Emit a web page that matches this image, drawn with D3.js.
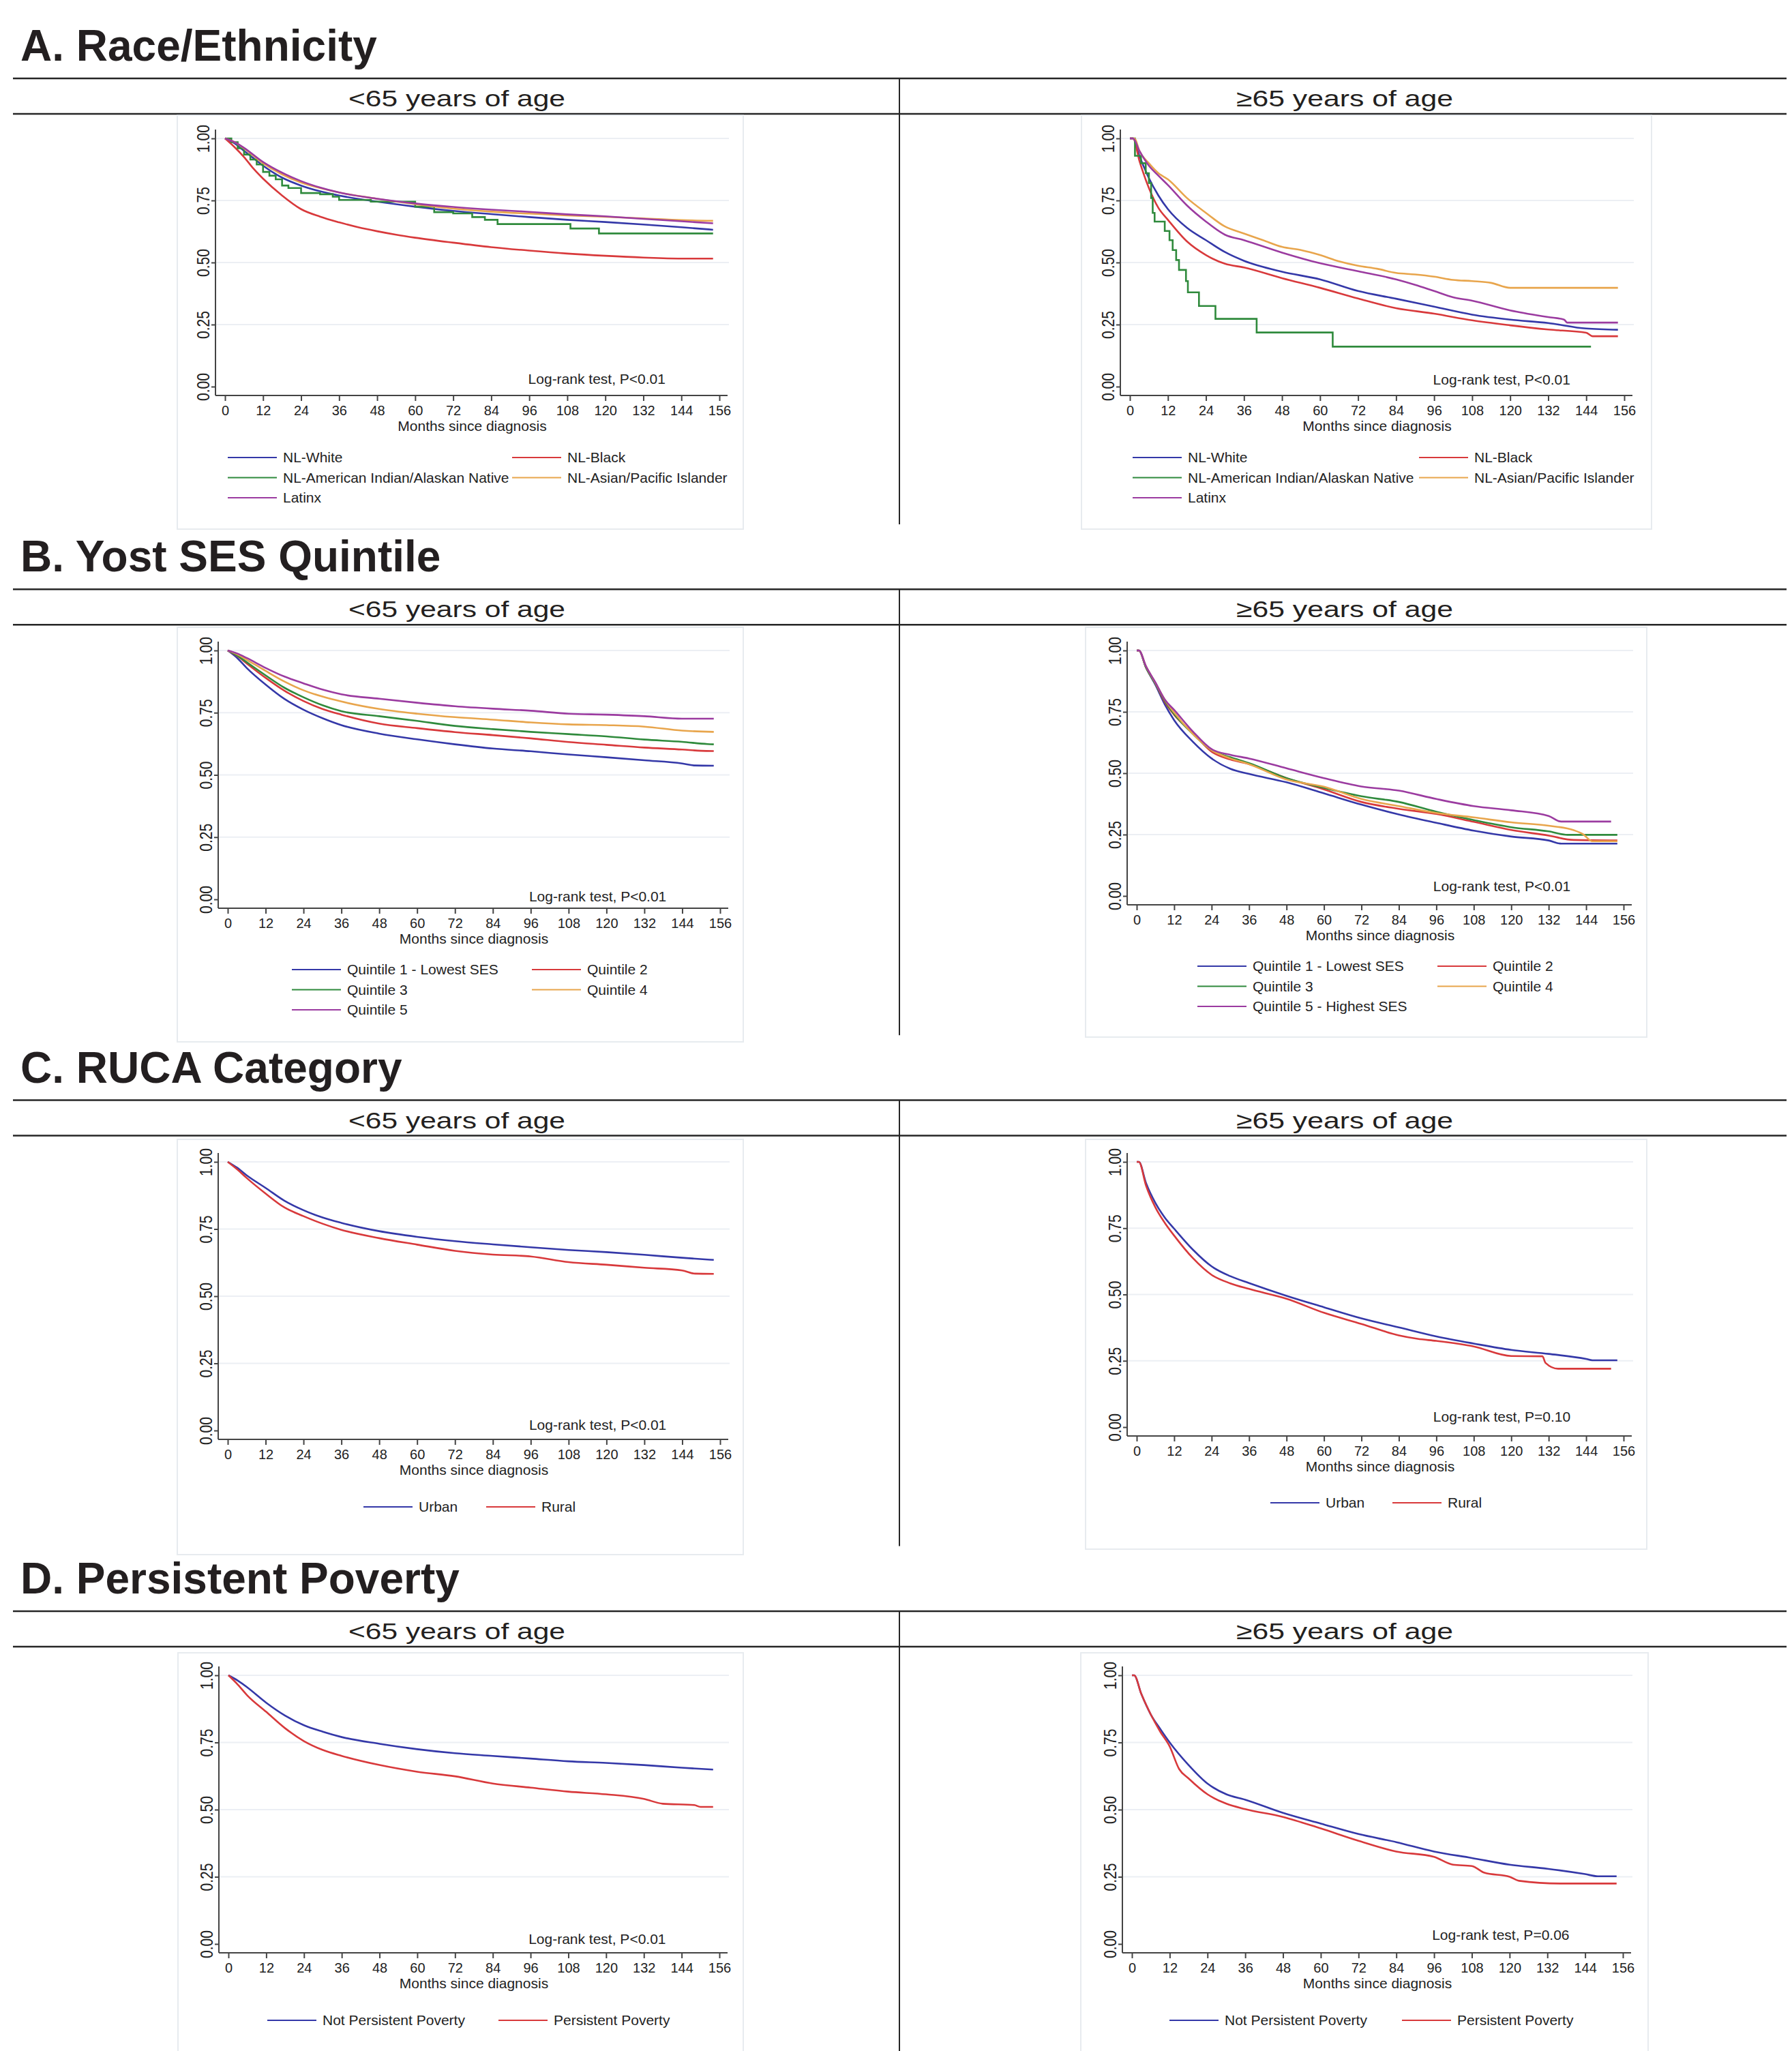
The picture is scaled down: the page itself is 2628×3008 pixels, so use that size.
<!DOCTYPE html>
<html>
<head>
<meta charset="UTF-8">
<title>Survival by group and age</title>
<script src="https://d3js.org/d3.v7.min.js"></script>
<style>
  body { margin: 0; background: #fff; }
  svg text { font-family: "Liberation Sans", Arial, sans-serif; fill: #222; }
  .sect { font-size: 64px; font-weight: bold; fill: #231f20; }
  .age { font-size: 34px; fill: #231f20; }
  .lab { font-size: 21px; }
</style>
</head>
<body>
<svg id="fig" width="2628" height="3008"></svg>
<script>
// ---------- data ----------
const monthTicks = [0, 12, 24, 36, 48, 60, 72, 84, 96, 108, 120, 132, 144, 156];
const survTicks = [0, 0.25, 0.5, 0.75, 1];

const sectionTitles = ["A. Race/Ethnicity", "B. Yost SES Quintile", "C. RUCA Category", "D. Persistent Poverty"];
const ageTitles = ["<65 years of age", "\u226565 years of age"];

const raceLabels = ["NL-White", "NL-Black", "NL-American Indian/Alaskan Native", "NL-Asian/Pacific Islander", "Latinx"];
const sesLabelsU65 = ["Quintile 1 - Lowest SES", "Quintile 2", "Quintile 3", "Quintile 4", "Quintile 5"];
const sesLabelsO65 = ["Quintile 1 - Lowest SES", "Quintile 2", "Quintile 3", "Quintile 4", "Quintile 5 - Highest SES"];
const rucaLabels = ["Urban", "Rural"];
const povertyLabels = ["Not Persistent Poverty", "Persistent Poverty"];

const logRank = ["Log-rank test, P<0.01", "Log-rank test, P<0.01", "Log-rank test, P<0.01", "Log-rank test, P<0.01",
                 "Log-rank test, P<0.01", "Log-rank test, P=0.10", "Log-rank test, P<0.01", "Log-rank test, P=0.06"];

// [month, survival]
const aU65White = [[0,1],[3,0.98],[6,0.95],[9,0.92],[12,0.89],[18,0.842],[24,0.81],[30,0.787],[36,0.77],[48,0.745],[60,0.725],[72,0.708],[84,0.695],[96,0.683],[108,0.672],[120,0.663],[132,0.653],[144,0.642],[154,0.632]];
const aU65Black = [[0,1],[3,0.965],[6,0.925],[9,0.878],[12,0.838],[18,0.77],[24,0.715],[30,0.685],[36,0.662],[42,0.642],[48,0.626],[54,0.612],[60,0.6],[72,0.58],[84,0.562],[96,0.548],[108,0.536],[120,0.527],[132,0.52],[144,0.516],[154,0.516]];
const aU65Aian  = [[0,1],[2,0.985],[4,0.96],[6,0.935],[8,0.915],[10,0.895],[12,0.865],[14,0.85],[16,0.835],[18,0.81],[20,0.8],[24,0.78],[30,0.775],[34,0.765],[36,0.752],[46,0.745],[60,0.725],[66,0.703],[72,0.698],[78,0.683],[82,0.672],[86,0.655],[109,0.637],[118,0.617],[154,0.617]];
const aU65Asian = [[0,1],[3,0.985],[6,0.96],[12,0.9],[18,0.855],[24,0.822],[30,0.8],[36,0.782],[48,0.757],[60,0.735],[72,0.717],[84,0.705],[96,0.697],[108,0.69],[120,0.684],[132,0.678],[144,0.671],[154,0.668]];
const aU65Latinx = [[0,1],[3,0.985],[6,0.962],[12,0.905],[18,0.862],[24,0.828],[30,0.802],[36,0.782],[48,0.757],[60,0.738],[72,0.724],[84,0.713],[96,0.704],[108,0.694],[120,0.686],[132,0.676],[144,0.666],[154,0.658]];

const aO65White = [[0,1],[1,1],[3,0.93],[6,0.84],[9,0.77],[12,0.715],[18,0.64],[24,0.59],[30,0.542],[36,0.507],[48,0.463],[60,0.432],[72,0.385],[84,0.354],[96,0.322],[108,0.29],[120,0.27],[132,0.256],[144,0.234],[154,0.229]];
const aO65Black = [[0,1],[1,1],[3,0.91],[6,0.8],[9,0.72],[12,0.672],[18,0.585],[24,0.53],[30,0.495],[36,0.48],[48,0.437],[60,0.398],[72,0.355],[84,0.316],[96,0.294],[108,0.267],[120,0.247],[132,0.23],[144,0.217],[146,0.203],[154,0.203]];
const aO65Aian  = [[0,1],[1.6,0.93],[3.5,0.9],[5,0.86],[6,0.82],[6.7,0.76],[7.2,0.7],[7.8,0.665],[11,0.627],[12.5,0.59],[13.5,0.55],[14.6,0.51],[15.5,0.47],[17.7,0.425],[18.3,0.38],[21.8,0.325],[27,0.273],[40,0.218],[64,0.161],[145.5,0.161]];
const aO65Asian = [[0,1],[1.5,1],[3,0.95],[6,0.9],[9,0.86],[12,0.835],[18,0.76],[24,0.7],[30,0.645],[36,0.617],[42,0.59],[48,0.563],[54,0.55],[60,0.53],[66,0.505],[72,0.487],[78,0.475],[84,0.458],[90,0.452],[96,0.443],[102,0.43],[108,0.425],[114,0.418],[120,0.398],[154,0.398]];
const aO65Latinx = [[0,1],[1,1],[3,0.95],[6,0.89],[9,0.85],[12,0.812],[18,0.73],[24,0.665],[30,0.612],[36,0.59],[48,0.54],[60,0.497],[72,0.465],[84,0.432],[90,0.41],[96,0.385],[102,0.36],[108,0.346],[120,0.307],[132,0.28],[137,0.27],[138,0.258],[154,0.258]];

const bU65Q1 = [[0,1],[3,0.97],[6,0.93],[12,0.863],[18,0.805],[24,0.762],[30,0.728],[36,0.7],[48,0.666],[60,0.643],[72,0.623],[84,0.606],[96,0.595],[108,0.582],[120,0.571],[132,0.559],[144,0.546],[148,0.538],[154,0.537]];
const bU65Q2 = [[0,1],[3,0.978],[6,0.948],[12,0.89],[18,0.838],[24,0.797],[30,0.765],[36,0.742],[48,0.706],[60,0.688],[72,0.672],[84,0.66],[96,0.647],[108,0.632],[120,0.621],[132,0.61],[144,0.602],[150,0.597],[154,0.596]];
const bU65Q3 = [[0,1],[3,0.98],[6,0.953],[12,0.9],[18,0.85],[24,0.812],[30,0.78],[36,0.756],[48,0.736],[60,0.717],[72,0.697],[84,0.684],[96,0.673],[108,0.664],[120,0.655],[132,0.642],[144,0.633],[152,0.624],[154,0.623]];
const bU65Q4 = [[0,1],[3,0.985],[6,0.963],[12,0.918],[18,0.875],[24,0.84],[30,0.815],[36,0.795],[48,0.765],[60,0.746],[72,0.732],[84,0.722],[96,0.711],[108,0.703],[120,0.7],[132,0.694],[144,0.678],[154,0.673]];
const bU65Q5 = [[0,1],[3,0.988],[6,0.97],[12,0.93],[18,0.895],[24,0.868],[30,0.843],[36,0.824],[48,0.806],[60,0.79],[72,0.776],[84,0.766],[96,0.758],[108,0.746],[120,0.742],[132,0.736],[144,0.726],[154,0.726]];

const bO65Q1 = [[0,1],[0.7,1],[3,0.93],[6,0.86],[9,0.78],[12,0.716],[18,0.628],[24,0.56],[30,0.518],[36,0.497],[48,0.463],[60,0.418],[72,0.372],[84,0.332],[96,0.298],[108,0.266],[120,0.242],[132,0.226],[136,0.213],[154,0.213]];
const bO65Q2 = [[0,1],[0.7,1],[3,0.93],[6,0.865],[9,0.79],[12,0.738],[18,0.664],[24,0.588],[30,0.556],[36,0.537],[48,0.48],[60,0.434],[72,0.383],[84,0.355],[96,0.334],[108,0.302],[120,0.269],[132,0.246],[140,0.228],[154,0.226]];
const bO65Q3 = [[0,1],[0.7,1],[3,0.93],[6,0.865],[9,0.795],[12,0.741],[18,0.66],[24,0.594],[30,0.565],[36,0.541],[48,0.48],[60,0.44],[72,0.406],[84,0.383],[96,0.343],[108,0.309],[120,0.28],[132,0.263],[138,0.249],[154,0.249]];
const bO65Q4 = [[0,1],[0.7,1],[3,0.935],[6,0.868],[9,0.8],[12,0.747],[18,0.66],[24,0.594],[30,0.56],[36,0.537],[48,0.474],[60,0.445],[72,0.395],[84,0.366],[96,0.338],[108,0.32],[120,0.3],[132,0.286],[140,0.268],[143,0.252],[146,0.223],[154,0.223]];
const bO65Q5 = [[0,1],[0.7,1],[3,0.935],[6,0.87],[9,0.8],[12,0.758],[18,0.67],[24,0.598],[30,0.575],[36,0.56],[48,0.52],[60,0.48],[72,0.446],[84,0.429],[96,0.395],[108,0.366],[120,0.349],[132,0.326],[136,0.303],[152,0.303]];

const cU65Urban = [[0,1],[3,0.978],[6,0.95],[12,0.903],[18,0.855],[24,0.82],[30,0.793],[36,0.773],[48,0.742],[60,0.721],[72,0.705],[84,0.693],[96,0.682],[108,0.672],[120,0.664],[132,0.654],[144,0.643],[154,0.635]];
const cU65Rural = [[0,1],[3,0.972],[6,0.94],[12,0.882],[18,0.83],[24,0.798],[30,0.77],[36,0.747],[48,0.716],[60,0.692],[72,0.669],[84,0.655],[96,0.648],[108,0.627],[120,0.617],[132,0.606],[144,0.596],[148,0.584],[154,0.583]];
const cO65Urban = [[0,1],[0.7,1],[3,0.92],[6,0.845],[9,0.79],[12,0.748],[18,0.669],[24,0.606],[30,0.569],[36,0.543],[48,0.495],[60,0.452],[72,0.41],[84,0.376],[96,0.342],[108,0.315],[120,0.291],[132,0.276],[144,0.257],[146,0.252],[154,0.252]];
const cO65Rural = [[0,1],[0.7,1],[3,0.91],[6,0.828],[9,0.77],[12,0.722],[18,0.637],[24,0.574],[30,0.542],[36,0.521],[48,0.484],[60,0.431],[72,0.389],[84,0.346],[90,0.333],[96,0.325],[108,0.304],[120,0.268],[130,0.267],[131,0.242],[135,0.22],[152,0.22]];

const dU65NotPP = [[0,1],[3,0.98],[6,0.955],[12,0.898],[18,0.85],[24,0.814],[30,0.79],[36,0.77],[48,0.745],[60,0.725],[72,0.71],[84,0.7],[96,0.69],[108,0.68],[120,0.674],[132,0.666],[144,0.656],[154,0.649]];
const dU65PP    = [[0,1],[3,0.965],[6,0.925],[12,0.864],[18,0.803],[24,0.755],[30,0.722],[36,0.7],[48,0.666],[60,0.641],[72,0.624],[84,0.597],[96,0.582],[108,0.567],[120,0.557],[132,0.54],[138,0.522],[148,0.517],[150,0.51],[154,0.51]];
const dO65NotPP = [[0,1],[0.7,1],[3,0.93],[6,0.854],[9,0.8],[12,0.75],[18,0.666],[24,0.597],[30,0.557],[36,0.537],[48,0.488],[60,0.448],[72,0.409],[84,0.379],[96,0.344],[108,0.32],[120,0.295],[132,0.28],[144,0.26],[148,0.252],[154,0.252]];
const dO65PP    = [[0,1],[0.7,1],[3,0.93],[6,0.854],[9,0.79],[12,0.735],[15,0.651],[18,0.616],[24,0.557],[30,0.522],[36,0.502],[48,0.473],[60,0.43],[72,0.384],[84,0.344],[96,0.324],[102,0.295],[108,0.29],[112,0.265],[120,0.25],[123,0.235],[136,0.225],[154,0.225]];

// ---------- styling / layout ----------
const blue = "#3438a8", red = "#d8393b", green = "#2f8a3c", orange = "#e8a54c", purple = "#9b3ba0";
const fiveColors = [blue, red, green, orange, purple];
const twoColors = [blue, red];

const secStep = 749.3;

// one entry per plot; box = [x0, y0, x1, y1], px = pixel of month 0 / 156, py = pixel of S=1 / S=0
const panels = [
  {sec:0, side:0, labels:raceLabels, series:[aU65White,aU65Black,aU65Aian,aU65Asian,aU65Latinx], steps:[2], colors:fiveColors,
   box:[260,169,1090,776], px:[330,1055], py:[203,567], legX:[334,751], legY:671, logY:563},
  {sec:0, side:1, labels:raceLabels, series:[aO65White,aO65Black,aO65Aian,aO65Asian,aO65Latinx], steps:[2], colors:fiveColors,
   box:[1586,169,2422,776], px:[1657,2382], py:[203,567], legX:[1661,2081], legY:671, logY:564},
  {sec:1, side:0, labels:sesLabelsU65, series:[bU65Q1,bU65Q2,bU65Q3,bU65Q4,bU65Q5], steps:[], colors:fiveColors,
   box:[260,920,1090,1528], px:[334,1056], py:[954,1319], legX:[428,780], legY:1422, logY:1322},
  {sec:1, side:1, labels:sesLabelsO65, series:[bO65Q1,bO65Q2,bO65Q3,bO65Q4,bO65Q5], steps:[], colors:fiveColors,
   box:[1592,920,2415,1521], px:[1667,2381], py:[954,1314], legX:[1756,2108], legY:1417, logY:1307},
  {sec:2, side:0, labels:rucaLabels, series:[cU65Urban,cU65Rural], steps:[], colors:twoColors,
   box:[260,1671,1090,2280], px:[334,1056], py:[1704,2098], legX:[533,713], legY:2210, logY:2097},
  {sec:2, side:1, labels:rucaLabels, series:[cO65Urban,cO65Rural], steps:[], colors:twoColors,
   box:[1592,1671,2415,2272], px:[1667,2381], py:[1704,2093], legX:[1863,2042], legY:2204, logY:2085},
  {sec:3, side:0, labels:povertyLabels, series:[dU65NotPP,dU65PP], steps:[], colors:twoColors,
   box:[261,2424,1090,3012], px:[335,1055], py:[2457,2851], legX:[392,731], legY:2963, logY:2851},
  {sec:3, side:1, labels:povertyLabels, series:[dO65NotPP,dO65PP], steps:[], colors:twoColors,
   box:[1585,2424,2417,3012], px:[1660,2380], py:[2457,2851], legX:[1715,2056], legY:2963, logY:2845}
];

const svg = d3.select("#fig");
svg.append("rect").attr("width", 2628).attr("height", 3008).attr("fill", "#fff");

// section headers, rules and the middle divider
sectionTitles.forEach((t, k) => {
  const off = k * secStep;
  svg.append("text").attr("class", "sect").attr("x", 30).attr("y", 89 + off).text(t);
  [115, 167].forEach(yy => {
    svg.append("line").attr("x1", 19).attr("x2", 2620).attr("y1", yy + off).attr("y2", yy + off)
      .attr("stroke", "#262626").attr("stroke-width", 2.5);
  });
  svg.append("line").attr("x1", 1319).attr("x2", 1319)
    .attr("y1", 115 + off).attr("y2", Math.min(115 + off + 654, 3008))
    .attr("stroke", "#262626").attr("stroke-width", 2);
  ageTitles.forEach((a, s) => {
    svg.append("text").attr("class", "age").attr("x", s === 0 ? 670 : 1972).attr("y", 156 + off)
      .attr("text-anchor", "middle").attr("textLength", 318).attr("lengthAdjust", "spacingAndGlyphs").text(a);
  });
});

function drawPanel(p, idx) {
  const g = svg.append("g");
  g.append("rect").attr("x", p.box[0]).attr("y", p.box[1])
    .attr("width", p.box[2] - p.box[0]).attr("height", p.box[3] - p.box[1])
    .attr("fill", "#fff").attr("stroke", "#e7ebef").attr("stroke-width", 2);

  const x = d3.scaleLinear().domain([0, 156]).range(p.px);
  const y = d3.scaleLinear().domain([1, 0]).range(p.py);
  const axisY = p.py[1] + 13;
  const axisX = p.px[0] - 14;

  // gridlines
  g.selectAll(".grid").data(survTicks.filter(v => v > 0)).join("line")
    .attr("x1", axisX).attr("x2", x(156) + 14)
    .attr("y1", d => y(d)).attr("y2", d => y(d))
    .attr("stroke", "#eceff4").attr("stroke-width", 2);

  // x axis
  const xa = g.append("g").attr("transform", `translate(0,${axisY})`)
    .call(d3.axisBottom(x).tickValues(monthTicks).tickSize(8).tickPadding(7))
    .attr("font-size", 20).attr("color", "#444");
  xa.select(".domain").remove();
  xa.selectAll(".tick line").attr("stroke-width", 2);
  g.append("line").attr("x1", axisX).attr("x2", x(156) + 12).attr("y1", axisY).attr("y2", axisY)
    .attr("stroke", "#444").attr("stroke-width", 2);

  // y axis, labels turned to read upwards
  const ya = g.append("g").attr("transform", `translate(${axisX},0)`)
    .call(d3.axisLeft(y).tickValues(survTicks).tickFormat(d3.format(".2f")).tickSize(6))
    .attr("font-size", 25).attr("color", "#444");
  ya.select(".domain").remove();
  ya.selectAll(".tick line").attr("stroke-width", 2);
  ya.selectAll(".tick text").attr("transform", "rotate(-90)").attr("x", 0).attr("y", -9)
    .attr("dy", 0).attr("text-anchor", "middle")
    .attr("textLength", 41).attr("lengthAdjust", "spacingAndGlyphs");
  g.append("line").attr("x1", axisX).attr("x2", axisX).attr("y1", y(1) - 13).attr("y2", axisY)
    .attr("stroke", "#444").attr("stroke-width", 2);

  g.append("text").attr("class", "lab").attr("x", x(78)).attr("y", axisY + 52)
    .attr("text-anchor", "middle").text("Months since diagnosis");

  g.append("text").attr("class", "lab").attr("x", x(139)).attr("y", p.logY)
    .attr("text-anchor", "end").text(logRank[idx]);

  // survival curves
  p.series.forEach((s, i) => {
    const line = d3.line().x(d => x(d[0])).y(d => y(d[1]))
      .curve(p.steps.includes(i) ? d3.curveStepAfter : d3.curveMonotoneX);
    g.append("path").datum(s).attr("d", line).attr("fill", "none")
      .attr("stroke", p.colors[i]).attr("stroke-width", 2.6);
  });

  // legend
  p.labels.forEach((lab, i) => {
    const col = i % 2, row = Math.floor(i / 2);
    const lx = p.legX[col], ly = p.legY + row * 29.5;
    g.append("line").attr("x1", lx).attr("x2", lx + 72).attr("y1", ly).attr("y2", ly)
      .attr("stroke", p.colors[i]).attr("stroke-width", 2.2);
    g.append("text").attr("class", "lab").attr("x", lx + 81).attr("y", ly + 7).text(lab);
  });
}

panels.forEach(drawPanel);
</script>
</body>
</html>
